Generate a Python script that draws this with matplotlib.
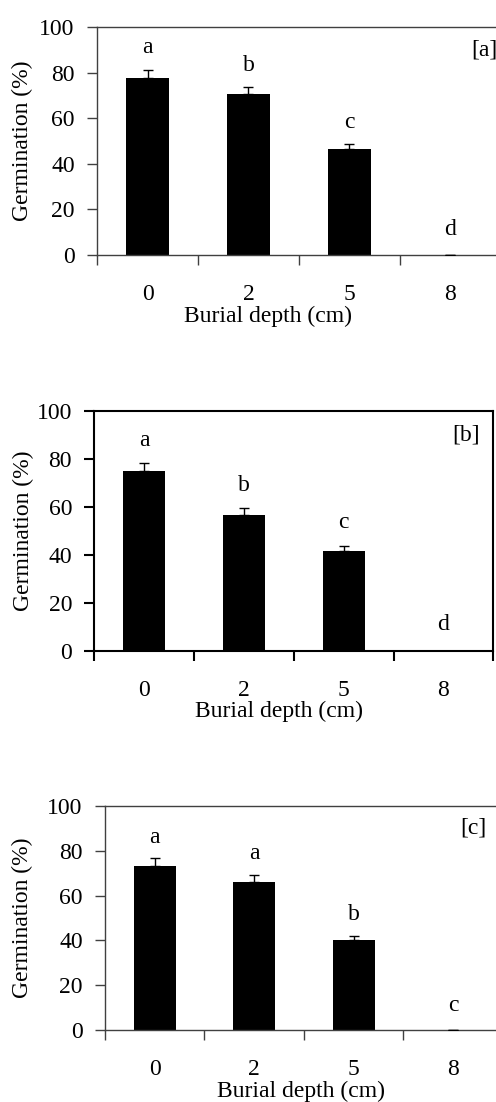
import numpy as np
import matplotlib
matplotlib.use('Agg')
import matplotlib.pyplot as plt

depths = ['0', '2', '5', '8']

mean_a = [77.8, 70.5, 46.5, 0.0]
err_a = [3.5, 3.3, 2.2, 0.0]
letters_a = ['a', 'b', 'c', 'd']

mean_b = [74.7, 56.5, 41.7, 0.0]
err_b = [3.4, 2.8, 2.1, 0.0]
letters_b = ['a', 'b', 'c', 'd']

mean_c = [73.2, 66.2, 40.3, 0.0]
err_c = [3.4, 3.0, 1.8, 0.0]
letters_c = ['a', 'a', 'b', 'c']

plt.rcParams['font.family'] = ['Liberation Serif', 'DejaVu Serif']
plt.rcParams['font.size'] = 17

fig = plt.figure(figsize=(4.96, 11.02), dpi=100)

# left, bottom, width, height in figure fractions (a and c run past the right edge)
boxes = [
    [0.1956, 0.7686, 1.010 - 0.1956, 0.9755 - 0.7686],
    [0.1901, 0.4095, 0.9946 - 0.1901, 0.6273 - 0.4095],
    [0.2117, 0.0653, 1.014 - 0.2117, 0.2686 - 0.0653],
]
panels = [
    (mean_a, err_a, letters_a, '[a]', 3.34, '#404040', 1.0),
    (mean_b, err_b, letters_b, '[b]', 3.23, 'black', 1.5),
    (mean_c, err_c, letters_c, '[c]', 3.20, '#404040', 1.0),
]
# label placement in axes fractions: (ylabel x, xlabel x, xlabel baseline y)
label_pos = [(-0.1856, 0.423, -0.294), (-0.1772, 0.463, -0.275),
             (-0.2085, 0.492, -0.298)]

x = np.arange(len(depths))
for box, (mean, err, letters, tag, tag_x, edge, lw), (yl_x, xl_x, xl_y) in zip(boxes, panels, label_pos):
    ax = fig.add_axes(box)
    ax.bar(x, mean, width=0.42, color='black', zorder=2)
    ax.errorbar(x, mean, yerr=[np.zeros(len(mean)), err], fmt='none',
                ecolor='black', elinewidth=1.0, capsize=3.6, capthick=1.0,
                zorder=3)
    for xi, m, e, lab in zip(x, mean, err, letters):
        ax.text(xi, max(m + e + 9.5, 11), lab, ha='center', va='center',
                fontsize=17)
    ax.text(tag_x, 90, tag, ha='center', va='center', fontsize=17)

    ax.set_xlim(-0.5, 3.5)
    ax.set_ylim(0, 100)
    ax.set_yticks(range(0, 101, 20))
    ax.set_xticks(np.arange(-0.5, 4, 1.0))
    ax.set_xticklabels([])
    ax.set_xticks(x, minor=True)
    ax.set_xticklabels(depths, minor=True)
    ax.tick_params(axis='x', which='major', direction='out', length=7,
                   width=lw, color=edge)
    ax.tick_params(axis='x', which='minor', length=0, pad=21)
    ax.tick_params(axis='y', direction='out', length=7, width=lw,
                   color=edge, pad=9)
    for s in ax.spines.values():
        s.set_color(edge)
        s.set_linewidth(lw)
    ax.set_ylabel('Germination (%)', fontsize=17, va='center')
    ax.yaxis.set_label_coords(yl_x, 0.5)
    ax.set_xlabel('Burial depth (cm)', fontsize=17, va='baseline')
    ax.xaxis.set_label_coords(xl_x, xl_y)

fig.savefig('out.png', dpi=100)
